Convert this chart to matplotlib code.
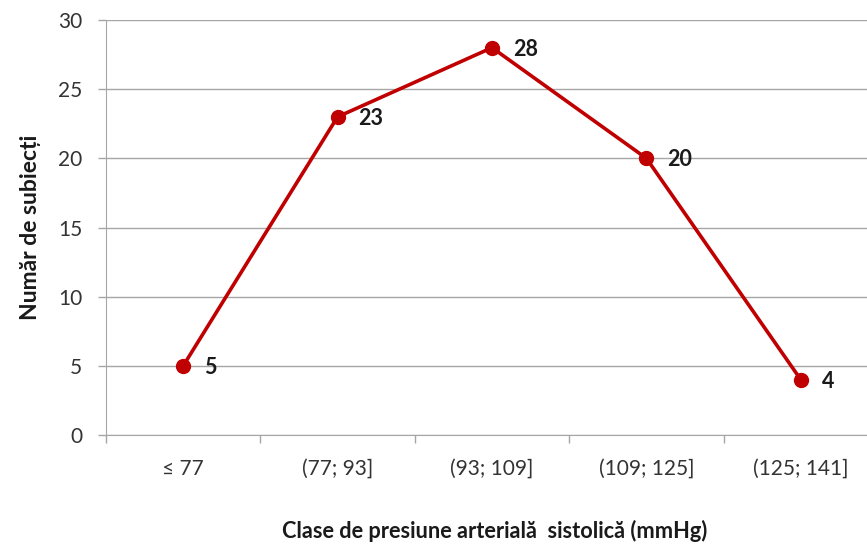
import matplotlib
matplotlib.use("Agg")
import matplotlib.pyplot as plt
import numpy as np

categories = ["≤ 77", "(77; 93]", "(93; 109]", "(109; 125]", "(125; 141]"]
values = [5, 23, 28, 20, 4]
y_ticks = [0, 5, 10, 15, 20, 25, 30]

plt.rcParams['font.family'] = ['Lato', 'DejaVu Sans']

fig = plt.figure(figsize=(8.67, 5.49), dpi=100)
ax = fig.add_axes([106/867, 1-435/549, 1-106/867, (435-20)/549])

x = np.arange(len(categories))
red = "#C00000"
grid = "#A6A6A6"
ax.plot(x, values, color=red, lw=2.6, marker='o', markersize=10,
        markerfacecolor=red, markeredgecolor=red, zorder=3, solid_capstyle='round')
for xi, v in zip(x, values):
    ax.annotate(str(v), (xi, v), xytext=(15, -1), textcoords='offset points',
                ha='left', va='center', fontsize=15.5, fontweight='bold', color='#1a1a1a')

ax.set_ylim(0, 30)
ax.set_xlim(-0.5, 4.5 - 11/154.4)
ax.set_yticks(y_ticks)
ax.yaxis.grid(True, color=grid, lw=1)
ax.set_axisbelow(True)
ax.set_xticks(x)
ax.set_xticklabels(categories)
ax.set_xticks(np.arange(-0.5, 4.0, 1.0), minor=True)
ax.tick_params(axis='x', which='major', length=0, pad=17, labelsize=15, colors='#333333')
ax.tick_params(axis='x', which='minor', length=6, width=1, color=grid, direction='out')
ax.tick_params(axis='y', length=6, width=1, color=grid, pad=11, labelsize=15, labelcolor='#333333')
for s in ['top', 'right']:
    ax.spines[s].set_visible(False)
ax.spines['left'].set_color(grid)
ax.spines['bottom'].set_color(grid)

ax.set_ylabel("Număr de subiecți", fontsize=16.5, fontweight='bold', color='#1a1a1a', labelpad=12)
fig.text(495/867, 1-531/549, "Clase de presiune arterială  sistolică (mmHg)", ha='center', va='center',
         fontsize=15.7, fontweight='bold', color='#1a1a1a')

fig.savefig("out.png", dpi=100)
